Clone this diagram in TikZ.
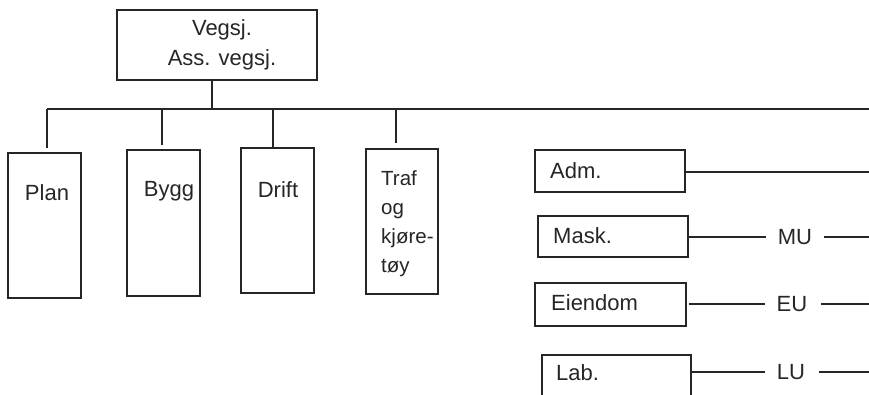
\documentclass[tikz,border=0pt]{standalone}
\usepackage{fontspec}
\setmainfont{Liberation Sans}
\begin{document}
\begin{tikzpicture}[x=1pt,y=-1pt,
  boxstyle/.style={draw=black!85,line width=1.8pt,rectangle,inner sep=0pt},
  lbl/.style={inner sep=0pt,font=\fontsize{22}{29}\selectfont,text=black!85},
  conn/.style={draw=black!85,line width=1.8pt},
  thinconn/.style={draw=black!85,line width=1.4pt}]
\useasboundingbox[fill=white] (0,0) rectangle (869,394);
% top box
\node[boxstyle,minimum width=200pt,minimum height=70pt] (top) at (217,45) {};
\node[lbl,align=center] (toptxt) at (222,45) {Vegsj.\\[1pt]Ass. vegsj.};
% bus
\coordinate (bustop) at (212,109);
\coordinate (busL) at (47,109);
\coordinate (busR) at (869,109);
\draw[conn] (bustop |- top.south) -- (bustop);
\draw[conn] (busL) -- (busR);
% lower boxes
\node[boxstyle,minimum width=73pt,minimum height=145pt] (plan) at (44.5,225.5) {};
\node[boxstyle,minimum width=73pt,minimum height=146pt] (bygg) at (163.5,223) {};
\node[boxstyle,minimum width=73pt,minimum height=145pt] (drift) at (277.5,220.5) {};
\node[boxstyle,minimum width=72pt,minimum height=145pt] (traf) at (402,221.5) {};
\node[lbl] (plantxt) at (47,193) {Plan};
\node[lbl] (byggtxt) at (169,191) {Bygg};
\node[lbl] (drifttxt) at (278,190) {Drift};
\node[lbl,font=\fontsize{20.5}{29}\selectfont,align=left,anchor=north west] (traftxt) at (381,170) {Traf\\og\\kjøre-\\tøy};
\coordinate (d1) at (47,109);
\coordinate (d2) at (162,109);
\coordinate (d3) at (273,109);
\coordinate (d4) at (396,109);
\draw[conn] (d1) -- ([yshift=4pt]d1 |- plan.north);
\draw[conn] (d2) -- ([yshift=4pt]d2 |- bygg.north);
\draw[conn] (d3) -- (d3 |- drift.north);
\draw[conn] (d4) -- ([yshift=5pt]d4 |- traf.north);
% right boxes
\node[boxstyle,minimum width=150pt,minimum height=42pt] (adm) at (610,171) {};
\node[boxstyle,minimum width=150pt,minimum height=41pt] (mask) at (613,236.5) {};
\node[boxstyle,minimum width=151pt,minimum height=43pt] (eien) at (610.5,304.5) {};
\node[boxstyle,minimum width=149pt,minimum height=60pt] (lab) at (616.5,385) {};
\node[lbl,anchor=west] (admtxt) at (550,171) {Adm.};
\node[lbl,anchor=west] (masktxt) at (553,236) {Mask.};
\node[lbl,anchor=west] (eientxt) at (551,303) {Eiendom};
\node[lbl,anchor=west] (labtxt) at (556,373) {Lab.};
\node[lbl] (mu) at (795,237) {MU};
\node[lbl] (eu) at (792,304) {EU};
\node[lbl] (lu) at (791,372) {LU};
\coordinate (admR) at (869,172);
\coordinate (muR) at (869,237);
\coordinate (euR) at (869,304);
\coordinate (luR) at (869,372);
\draw[conn] (adm.east |- admR) -- (admR);
\draw[thinconn] (mask.east |- mu) -- ([xshift=-12pt]mu.west);
\draw[thinconn] ([xshift=12pt]mu.east) -- (muR);
\draw[conn] ([xshift=2pt]eien.east |- eu) -- ([xshift=-12pt]eu.west);
\draw[conn] ([xshift=14pt]eu.east) -- (euR);
\draw[conn] (lab.east |- lu) -- ([xshift=-12pt]lu.west);
\draw[conn] ([xshift=14pt]lu.east) -- (luR);
\end{tikzpicture}
\end{document}
